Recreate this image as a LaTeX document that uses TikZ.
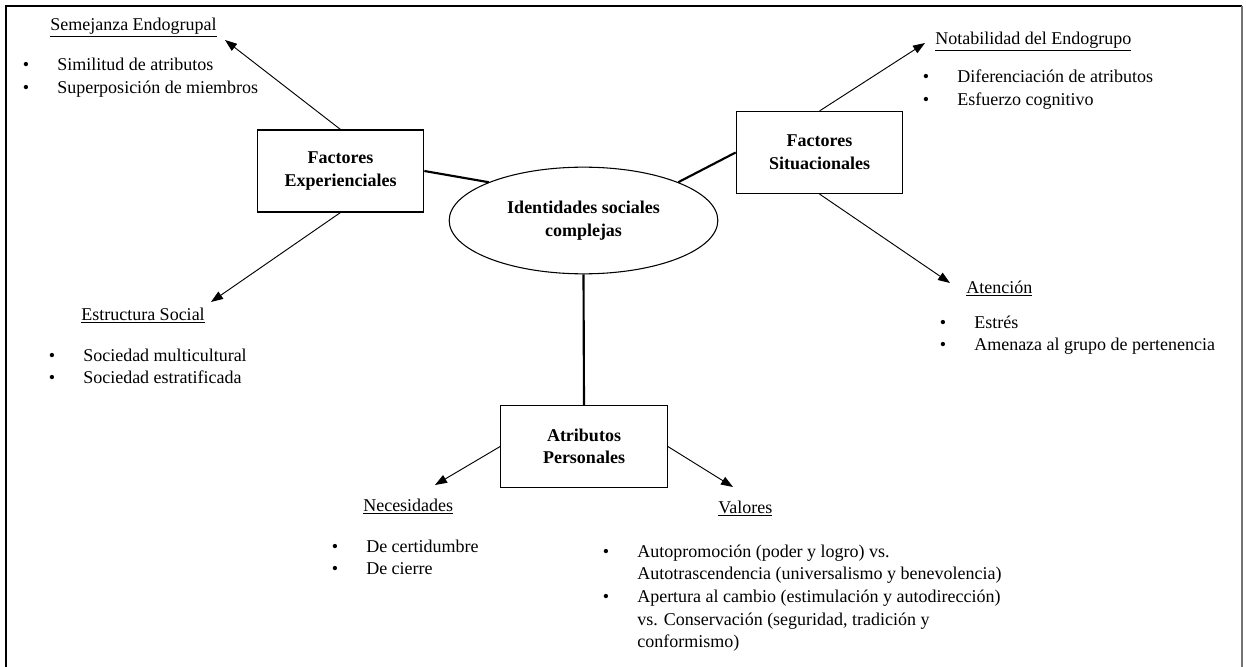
\documentclass[tikz,border=0pt]{standalone}
\usepackage{fontspec}
\setmainfont{Liberation Serif}
\usetikzlibrary{shapes.geometric,arrows.meta}

\newcommand{\itm}{\llap{\textbullet\hspace{21pt}}}
\newcommand{\txtfont}{\fontsize{13.5}{17}\selectfont}

\tikzset{
  caja/.style={draw,line width=0.8pt,minimum width=125pt,minimum height=61.5pt,
    align=center,font=\txtfont\bfseries},
  centro/.style={draw,ellipse,line width=0.8pt,minimum width=201.5pt,minimum height=80pt,
    align=center,font=\txtfont\bfseries},
  tit/.style={anchor=base west,inner sep=0pt,font=\txtfont},
  lista/.style={anchor=base west,inner sep=0pt,font=\txtfont},
  flecha/.style={draw,line width=0.7pt,-{Triangle[length=9pt,width=6.5pt]}},
  enlace/.style={draw,line width=1.6pt},
}

\begin{document}
\begin{tikzpicture}[x=0.75pt,y=-0.75pt]
\useasboundingbox (0,0) rectangle (1246,667);

% marco
\draw[line width=1.2pt] (6,667) -- (6,6) -- (1242,6);
\draw[line width=0.8pt,black!55] (1242,6) -- (1242,667);

% nodos centrales
\node[centro] at (583.5,220.5)(ident){Identidades sociales\\complejas};
\node[caja] at (340.5,171)(fexp){Factores\\Experienciales};
\node[caja] at (819.5,152.5)(fsit){Factores\\Situacionales};
\node[caja] at (584,446.5)(attr){Atributos\\Personales};

\path[enlace] (fexp.east) -- (ident.158);
\path[enlace] (ident.22) -- (fsit.west);
\path[enlace] (ident.south) -- (attr.north);

% titulos
\node[tit] at (50,31)(tsem){\underline{Semejanza Endogrupal}};
\node[tit] at (81,320)(test){\underline{Estructura Social}};
\node[tit] at (935,45)(tnot){\underline{Notabilidad del Endogrupo}};
\node[tit] at (966,293)(tate){\underline{Atención}};
\node[tit] at (363,511)(tnec){\underline{Necesidades}};
\node[tit] at (718,513)(tval){\underline{Valores}};

% listas
\node[lista] at (57,71)(lsem){\begin{tabular}[t]{@{}l@{}}
  \itm Similitud de atributos\\
  \itm Superposición de miembros\end{tabular}};
\node[lista] at (83,361)(lest){\begin{tabular}[t]{@{}l@{}}
  \itm Sociedad multicultural\\
  \itm Sociedad estratificada\end{tabular}};
\node[lista] at (957,83)(lnot){\begin{tabular}[t]{@{}l@{}}
  \itm Diferenciación de atributos\\
  \itm Esfuerzo cognitivo\end{tabular}};
\node[lista] at (974,328)(late){\begin{tabular}[t]{@{}l@{}}
  \itm Estrés\\
  \itm Amenaza al grupo de pertenencia\end{tabular}};
\node[lista] at (366,552)(lnec){\begin{tabular}[t]{@{}l@{}}
  \itm De certidumbre\\
  \itm De cierre\end{tabular}};
\node[lista] at (637,557)(lval){\begin{tabular}[t]{@{}l@{}}
  \itm Autopromoción (poder y logro) vs.\\
  Autotrascendencia (universalismo y benevolencia)\\
  \itm Apertura al cambio (estimulación y autodirección)\\
  vs. Conservación (seguridad, tradición y\\
  conformismo)\end{tabular}};

% puntas de flecha
\coordinate (psem) at (225,40);
\coordinate (pest) at (211,302);
\coordinate (pnot) at (925,43);
\coordinate (pate) at (950,283);
\coordinate (pnec) at (435,485);
\coordinate (pval) at (733,487);

\path[flecha] (fexp.north) -- (psem);
\path[flecha] (fexp.south) -- (pest);
\path[flecha] (fsit.north) -- (pnot);
\path[flecha] (fsit.south) -- (pate);
\path[flecha] (attr.west) -- (pnec);
\path[flecha] (attr.east) -- (pval);
\end{tikzpicture}
\end{document}
